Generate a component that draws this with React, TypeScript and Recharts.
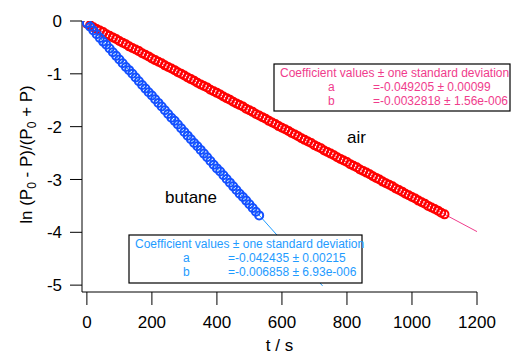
import React from "react";
import { ComposedChart, Scatter, Line, XAxis, YAxis, Label } from "recharts";

// sampled every 10 s
const airStep = 10;
const airValues = [
  -0.05, -0.08, -0.12, -0.15, -0.18, -0.21, -0.25, -0.28, -0.31, -0.34,
  -0.38, -0.41, -0.44, -0.48, -0.51, -0.54, -0.57, -0.61, -0.64, -0.67,
  -0.71, -0.74, -0.77, -0.80, -0.84, -0.87, -0.90, -0.93, -0.97, -1.00,
  -1.03, -1.07, -1.10, -1.13, -1.17, -1.20, -1.23, -1.26, -1.30, -1.33,
  -1.36, -1.39, -1.43, -1.46, -1.49, -1.53, -1.56, -1.59, -1.62, -1.66,
  -1.69, -1.72, -1.76, -1.79, -1.82, -1.85, -1.89, -1.92, -1.95, -1.99,
  -2.02, -2.05, -2.08, -2.12, -2.15, -2.18, -2.22, -2.25, -2.28, -2.31,
  -2.35, -2.38, -2.41, -2.45, -2.48, -2.51, -2.54, -2.58, -2.61, -2.64,
  -2.67, -2.71, -2.74, -2.77, -2.81, -2.84, -2.87, -2.90, -2.94, -2.97,
  -3.00, -3.04, -3.07, -3.10, -3.13, -3.17, -3.20, -3.23, -3.27, -3.30,
  -3.33, -3.36, -3.40, -3.43, -3.46, -3.50, -3.53, -3.56, -3.59, -3.63,
  -3.66,
];

const butaneStep = 10;
const butaneValues = [
  -0.04, -0.11, -0.18, -0.25, -0.32, -0.39, -0.45, -0.52, -0.59, -0.66,
  -0.73, -0.80, -0.87, -0.93, -1.00, -1.07, -1.14, -1.21, -1.28, -1.35,
  -1.41, -1.48, -1.55, -1.62, -1.69, -1.76, -1.83, -1.89, -1.96, -2.03,
  -2.10, -2.17, -2.24, -2.31, -2.37, -2.44, -2.51, -2.58, -2.65, -2.72,
  -2.79, -2.85, -2.92, -2.99, -3.06, -3.13, -3.20, -3.27, -3.33, -3.40,
  -3.47, -3.54, -3.61, -3.68,
];

// fit lines (end points)
const airFitT = [0, 1200];
const airFitV = [-0.049, -3.987];
const butaneFitT = [0, 725];
const butaneFitV = [-0.042, -5.014];

const xTicks = [0, 200, 400, 600, 800, 1000, 1200];
const yTicks = [0, -1, -2, -3, -4, -5];

const airCoef = { a: "=-0.049205 ± 0.00099", b: "=-0.0032818 ± 1.56e-006" };
const butaneCoef = { a: "=-0.042435 ± 0.00215", b: "=-0.006858 ± 6.93e-006" };

const FONT = "'Liberation Sans', Arial, sans-serif";
const AIR_RED = "#ff0000";
const AIR_PINK = "#f03c8c";
const BUT_BLUE = "#1450ff";
const BUT_LIGHT = "#1e9bff";

const airData = airValues.map((v, i) => ({ t: i * airStep, v }));
const butaneData = butaneValues.map((v, i) => ({ t: i * butaneStep, v }));
const airFit = airFitT.map((t, i) => ({ t, v: airFitV[i] }));
const butaneFit = butaneFitT.map((t, i) => ({ t, v: butaneFitV[i] }));

const ring = (color: string) => (p: any) =>
  <circle cx={p.cx} cy={p.cy} r={4} fill="none" stroke={color} strokeWidth={2} />;

function YLabel(props: any) {
  const vb = props.viewBox || { x: 0, y: 21, width: 82, height: 271 };
  const cx = 32;
  const cy = vb.y + vb.height / 2 - 2;
  return (
    <text x={cx} y={cy} transform={`rotate(-90 ${cx} ${cy})`} textAnchor="middle"
      fontFamily={FONT} fontSize={17} fill="#000">
      ln (P<tspan fontSize={12} dy={4}>0</tspan>
      <tspan dy={-4}> - P)/(P</tspan>
      <tspan fontSize={12} dy={4}>0</tspan>
      <tspan dy={-4}> + P)</tspan>
    </text>
  );
}

function CoefBox({ x, y, w, h, color, coef, lines }: any) {
  return (
    <g fontFamily={FONT} fontSize={12} fill={color}>
      <rect x={x} y={y} width={w} height={h} fill="#fff" stroke="#000" strokeWidth={1.2} />
      <text x={x + 6} y={lines[0]}>Coefficient values ± one standard deviation</text>
      <text x={x + 54} y={lines[1]}>a</text>
      <text x={x + 99} y={lines[1]}>{coef.a}</text>
      <text x={x + 54} y={lines[2]}>b</text>
      <text x={x + 99} y={lines[2]}>{coef.b}</text>
    </g>
  );
}

export default function App() {
  return (
    <div style={{ position: "absolute", left: 0, top: 0, width: 526, height: 359, background: "#fff" }}>
      <ComposedChart width={526} height={359} margin={{ top: 21, right: 49, bottom: 0, left: 0 }}>
        <XAxis type="number" dataKey="t" domain={[-15, 1200]} ticks={xTicks} allowDataOverflow
          stroke="#000" tickSize={13} tickMargin={11} height={67}
          tick={{ fill: "#000", fontSize: 17, fontFamily: FONT }}>
          <Label value="t / s" position="insideBottom" offset={8}
            style={{ fill: "#000", fontSize: 17, fontFamily: FONT }} />
        </XAxis>
        <YAxis type="number" dataKey="v" domain={[-5.13, 0]} ticks={yTicks} allowDataOverflow
          stroke="#000" tickSize={12} tickMargin={8} width={82}
          tick={{ fill: "#000", fontSize: 17, fontFamily: FONT }}>
          <Label content={<YLabel />} />
        </YAxis>
        <Line data={butaneFit} dataKey="v" stroke={BUT_LIGHT} strokeWidth={1} dot={false} isAnimationActive={false} />
        <Line data={airFit} dataKey="v" stroke={AIR_PINK} strokeWidth={1} dot={false} isAnimationActive={false} />
        <Scatter data={airData} dataKey="v" shape={ring(AIR_RED)} isAnimationActive={false} />
        <Scatter data={butaneData} dataKey="v" shape={ring(BUT_BLUE)} isAnimationActive={false} />
      </ComposedChart>
      <svg width={526} height={359} style={{ position: "absolute", left: 0, top: 0, pointerEvents: "none" }}>
        <text x={347} y={143} fontFamily={FONT} fontSize={17} fill="#000">air</text>
        <text x={165} y={203} fontFamily={FONT} fontSize={17} fill="#000">butane</text>
        <CoefBox x={274} y={64} w={236} h={47} color={AIR_PINK} coef={airCoef} lines={[77, 91, 105]} />
        <CoefBox x={129} y={235} w={233} h={48} color={BUT_LIGHT} coef={butaneCoef} lines={[248, 262, 276]} />
      </svg>
    </div>
  );
}
